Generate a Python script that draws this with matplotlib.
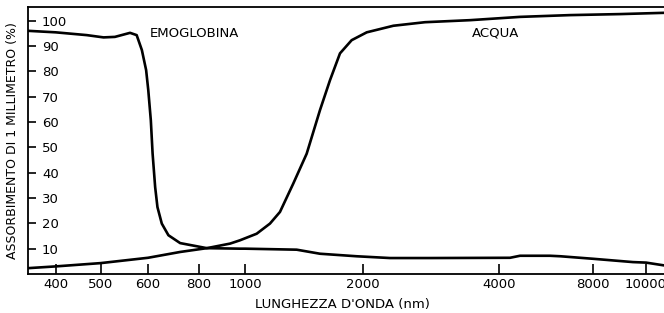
import numpy as np  # numeric arrays
import matplotlib  # plotting

matplotlib.use('Agg')  # no display available
import matplotlib.pyplot as plt  # pyplot interface

# tick wavelengths (nm) and their position along the printed axis (px of original)
X_TICKS = [400, 500, 600, 800, 1000, 2000, 4000, 8000, 10000]
X_TICK_LABELS = ['400', '500', '600', '800', '1000', '2000', '4000', '8000', '10000']
W_KNOTS = [300, 400, 500, 600, 800, 1000, 2000, 4000, 8000, 10000, 12000]
P_KNOTS = [10.7, 55.7, 100.7, 148.0, 199.0, 245.0, 362.7, 499.3, 593.3, 646.0, 698.7]

Y_TICKS = [10, 20, 30, 40, 50, 60, 70, 80, 90, 100]

# haemoglobin absorption (%)
hb_wl = [338, 400, 469, 506, 530, 562, 576, 587, 596, 601, 611, 618, 628, 637, 654, 680,
         726, 834, 978, 1000, 1439, 1637, 1949, 2400, 2985, 4455, 4881, 6157, 6600,
         8000, 9507, 10000, 10683]
hb_abs = [96.0, 95.4, 94.3, 93.4, 93.6, 95.2, 94.3, 88.4, 80.5, 72.6, 60.7, 47.5, 34.3,
          26.4, 19.9, 15.3, 12.2, 10.2, 10.0, 10.0, 9.6, 8.0, 7.0, 6.3, 6.3, 6.4, 7.2,
          7.2, 7.0, 6.0, 4.7, 4.5, 3.4]

# water absorption (%)
h2o_wl = [338, 400, 500, 600, 726, 834, 935, 978, 1099, 1212, 1297, 1410, 1524, 1637,
          1722, 1807, 1906, 2059, 2449, 2912, 3571, 4881, 7009, 9013, 10683]
h2o_abs = [2.3, 3.0, 4.3, 6.4, 8.7, 10.2, 12.0, 13.3, 15.9, 19.9, 24.5, 35.7, 47.5, 64.7,
           76.5, 87.1, 92.3, 95.4, 98.0, 99.4, 100.2, 101.5, 102.2, 102.6, 103.1]


def fwd(w):
    """wavelength -> position on the piecewise printed scale"""
    return np.interp(np.asarray(w, dtype=float), W_KNOTS, P_KNOTS)


def inv(p):
    """position -> wavelength"""
    return np.interp(np.asarray(p, dtype=float), P_KNOTS, W_KNOTS)


def main():
    plt.rcParams['font.family'] = ['DejaVu Sans']  # default sans
    fig = plt.figure(figsize=(6.64, 3.13), dpi=100)  # 664x313 px
    ax = fig.add_axes([28 / 664, 39 / 313, 1 - 28 / 664, 267 / 313])  # frame as in the scan

    ax.set_xscale('function', functions=(fwd, inv))  # non uniform wavelength axis
    ax.plot(hb_wl, hb_abs, color='black', lw=1.9, solid_capstyle='round')  # haemoglobin
    ax.plot(h2o_wl, h2o_abs, color='black', lw=1.9, solid_capstyle='round')  # water

    ax.set_xlim(338.4, 10683)  # left spine to right edge
    ax.set_ylim(0, 105.4)

    ax.set_xticks(X_TICKS)  # major ticks
    ax.set_xticklabels(X_TICK_LABELS)
    ax.minorticks_off()
    ax.set_yticks(Y_TICKS)
    ax.set_yticklabels([str(v) for v in Y_TICKS])

    ax.tick_params(axis='x', direction='in', length=7, width=1.2, labelsize=9.5, pad=3)
    ax.tick_params(axis='y', direction='in', length=6, width=1.2, labelsize=9.5, pad=-10)
    for lbl in ax.get_yticklabels():
        lbl.set_horizontalalignment('left')  # labels sit inside the frame

    for side in ['left', 'bottom', 'top']:
        ax.spines[side].set_linewidth(1.3)
    ax.spines['right'].set_visible(False)  # cut off in the original

    ax.text(607, 95.1, 'EMOGLOBINA', fontsize=9.5, ha='left', va='center')  # curve labels
    ax.text(3600, 95.1, 'ACQUA', fontsize=9.5, ha='left', va='center')

    ax.set_xlabel("LUNGHEZZA D'ONDA (nm)", fontsize=9.5)
    ax.xaxis.set_label_coords((342 - 28) / 636, -24 / 267)
    ax.set_ylabel('ASSORBIMENTO DI 1 MILLIMETRO (%)', fontsize=9)
    ax.yaxis.set_label_coords(-9 / 636, 0.5)

    fig.savefig('out.png', dpi=100)  # save
    plt.close(fig)


if __name__ == "__main__":
    main()
